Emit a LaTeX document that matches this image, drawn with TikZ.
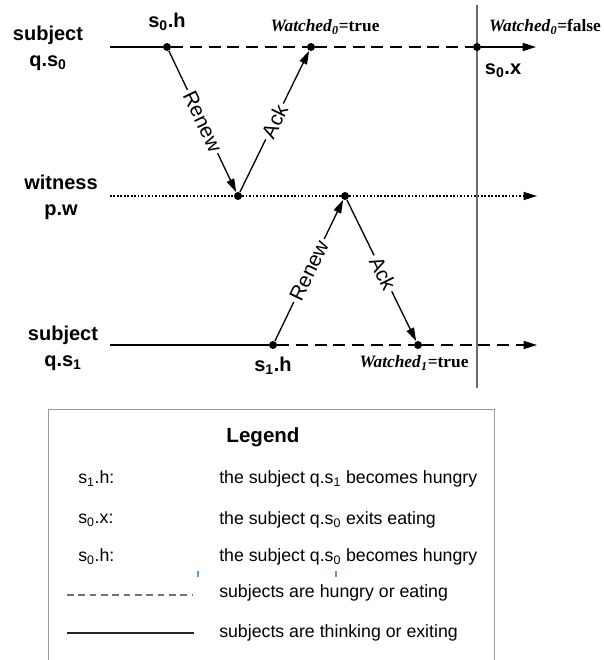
\documentclass[tikz,border=0pt]{standalone}
\usepackage{fontspec}
\setmainfont{Liberation Sans}
\newfontfamily\wfont{Liberation Serif}
\usetikzlibrary{arrows.meta}

\begin{document}
\begin{tikzpicture}[x=0.75pt,y=-0.75pt,>={Triangle[length=10pt,width=6pt]},
    dot/.style={circle,fill=black,inner sep=0pt,minimum size=6pt},
    lane/.style={align=center,font=\bfseries\fontsize{15}{19.5}\selectfont},
    evt/.style={font=\bfseries\fontsize{15}{18}\selectfont},
    watch/.style={font=\wfont\bfseries\fontsize{13}{15}\selectfont},
    msg/.style={sloped,fill=white,inner sep=2pt,font=\fontsize{15.5}{18}\selectfont},
    legtext/.style={anchor=west,inner sep=0pt,font=\fontsize{13.3}{16}\selectfont}]
  \useasboundingbox (0,0) rectangle (603,660);

  % time lines
  \node[lane] (q0) at (48,48) {subject\\q.s\textsubscript{0}};
  \node[lane] (pw) at (61,197) {witness\\p.w};
  \node[lane] (q1) at (63,348) {subject\\q.s\textsubscript{1}};

  \coordinate (vt) at (477,5);
  \coordinate (vb) at (477,388);
  \draw[gray!85!black,line width=1.5pt] (vt) -- (vb);

  \coordinate (a0) at (110,47);
  \coordinate (a0e) at (536,47);
  \coordinate (wa) at (110,196);
  \coordinate (we) at (537,196);
  \coordinate (b1) at (110,345);
  \coordinate (b1e) at (537,345);

  \node[dot] (s0h) at (167,47) {};
  \node[dot] (w0) at (311,47) {};
  \node[dot] (s0x) at (477,47) {};
  \node[dot] (r0) at (238,196) {};
  \node[dot] (r1) at (345,196) {};
  \node[dot] (s1h) at (273,345) {};
  \node[dot] (w1) at (418,345) {};

  \draw[line width=1.2pt] (a0) -- (s0h);
  \draw[line width=1.2pt,dash pattern=on 9pt off 5pt] (s0h) -- (w0) -- (s0x);
  \draw[line width=1.2pt,->] (s0x) -- (a0e);
  \draw[line width=1.1pt,dash pattern=on 1.3pt off 1.3pt,->] (wa) -- (r0) -- (r1) -- (we);
  \draw[line width=1.2pt] (b1) -- (s1h);
  \draw[line width=1.2pt,dash pattern=on 9pt off 5pt,->] (s1h) -- (w1) -- (b1e);

  % messages
  \draw[line width=1pt,->] (s0h) -- node[msg] {Renew} (r0);
  \draw[line width=1pt,->] (r0) -- node[msg] {Ack} (w0);
  \draw[line width=1pt,->] (s1h) -- node[msg] {Renew} (r1);
  \draw[line width=1pt,->] (r1) -- node[msg,pos=0.52] {Ack} (w1);

  % event labels
  \node[evt] (ls0h) at (167,22) {s\textsubscript{0}.h};
  \node[evt] (ls0x) at (503,71) {s\textsubscript{0}.x};
  \node[evt] (ls1h) at (273,366) {s\textsubscript{1}.h};
  \node[watch] (lw0) at (325,27) {\textit{Watched}\textsubscript{\textit{0}}=true};
  \node[watch] (lw0f) at (545,27) {\textit{Watched}\textsubscript{\textit{0}}=false};
  \node[watch] (lw1) at (414,363) {\textit{Watched}\textsubscript{\textit{1}}=true};

  % legend
  \draw[gray!80] (48,662) -- (48,409) -- (494,409) -- (494,662);
  \node[font=\bfseries\fontsize{15.4}{18}\selectfont] (leg) at (263,437) {Legend};
  \node[legtext] (k1) at (78,479) {s\textsubscript{1}.h:};
  \node[legtext] (t1) at (219,479) {the subject q.s\textsubscript{1} becomes hungry};
  \node[legtext] (k2) at (78,520) {s\textsubscript{0}.x:};
  \node[legtext] (t2) at (219,520) {the subject q.s\textsubscript{0} exits eating};
  \node[legtext] (k3) at (78,557) {s\textsubscript{0}.h:};
  \node[legtext] (t3) at (219,557) {the subject q.s\textsubscript{0} becomes hungry};
  \draw[blue!55!cyan!70,line width=0.8pt] (198,571) -- (198,577);
  \draw[blue!55!cyan!70,line width=0.8pt] (336,571) -- (336,577);
  \coordinate (da) at (67,595);
  \coordinate (db) at (192,595);
  \draw[gray!90!black,line width=1pt,dash pattern=on 5pt off 3.5pt] (da) -- (db);
  \node[legtext] (t4) at (219,593) {subjects are hungry or eating};
  \coordinate (sa) at (67,633);
  \coordinate (sb) at (194,633);
  \draw[black!85,line width=1pt] (sa) -- (sb);
  \node[legtext] (t5) at (219,633) {subjects are thinking or exiting};
\end{tikzpicture}
\end{document}
